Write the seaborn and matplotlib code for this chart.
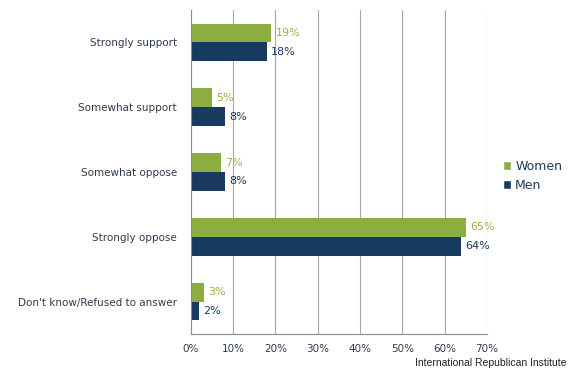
import matplotlib
matplotlib.use("Agg")
import matplotlib.pyplot as plt
import seaborn as sns
import pandas as pd
from matplotlib.patches import Patch

categories = ["Strongly support", "Somewhat support", "Somewhat oppose",
              "Strongly oppose", "Don't know/Refused to answer"]
women = [19, 5, 7, 65, 3]
men = [18, 8, 8, 64, 2]
series = ["Women", "Men"]
xticks = [0, 10, 20, 30, 40, 50, 60, 70]

green = "#8cad3f"
navy = "#173a5e"
label_green = "#9cb04e"
text_col = "#2e3b4e"

df = pd.DataFrame({
    "category": categories * 2,
    "value": women + men,
    "series": ["Women"] * len(categories) + ["Men"] * len(categories),
})

sns.set_style("white")
plt.rcParams['font.family'] = ['DejaVu Sans']

fig = plt.figure(figsize=(5.7, 3.69), dpi=100)
ax = fig.add_axes([0.335, 0.095, 0.519, 0.878])

sns.barplot(data=df, y="category", x="value", hue="series", order=categories,
            hue_order=series, palette=[green, navy], orient="h", width=0.58,
            saturation=1, ax=ax, legend=False)

for bar in ax.patches:
    bar.set_edgecolor("none")

ax.set_xlim(0, 70)
ax.set_ylim(4.5, -0.5)
ax.set_xticks(xticks)
ax.set_xticklabels([f"{t}%" for t in xticks], color=text_col, fontsize=7.5)
ax.set_yticks(range(len(categories)))
ax.set_yticklabels(categories, color=text_col, fontsize=7.5)
ax.set_xlabel("")
ax.set_ylabel("")
ax.xaxis.grid(True, color="#a6a6a6", linewidth=0.8)
ax.set_axisbelow(True)
for s in ["top", "right"]:
    ax.spines[s].set_visible(False)
for s in ["left", "bottom"]:
    ax.spines[s].set_color("#8c8c8c")
    ax.spines[s].set_linewidth(0.8)
ax.tick_params(axis="y", length=0, pad=10)
ax.tick_params(axis="x", length=4, color="#8c8c8c", direction="out", pad=3)

# minor ticks between categories on y axis
ax.set_yticks([i + 0.5 for i in range(-1, len(categories))], minor=True)
ax.tick_params(axis="y", which="minor", length=4, color="#8c8c8c", direction="out")

for cont, col in zip(ax.containers, [label_green, navy]):
    labels = [f"{int(v)}%" for v in cont.datavalues]
    ax.bar_label(cont, labels=labels, padding=3, color=col, fontsize=8)

handles = [Patch(facecolor=green, label="Women"), Patch(facecolor=navy, label="Men")]
fig.legend(handles=handles, loc="center left", bbox_to_anchor=(0.862, 0.523),
           frameon=False, fontsize=9, handlelength=0.7, handleheight=0.7,
           handletextpad=0.3, labelspacing=0.5, labelcolor=navy)

fig.text(0.993, 0.004, "International Republican Institute", ha="right", va="bottom",
         fontsize=7.5, family="Liberation Sans", color="#222222")

fig.savefig("out.png", dpi=100)
